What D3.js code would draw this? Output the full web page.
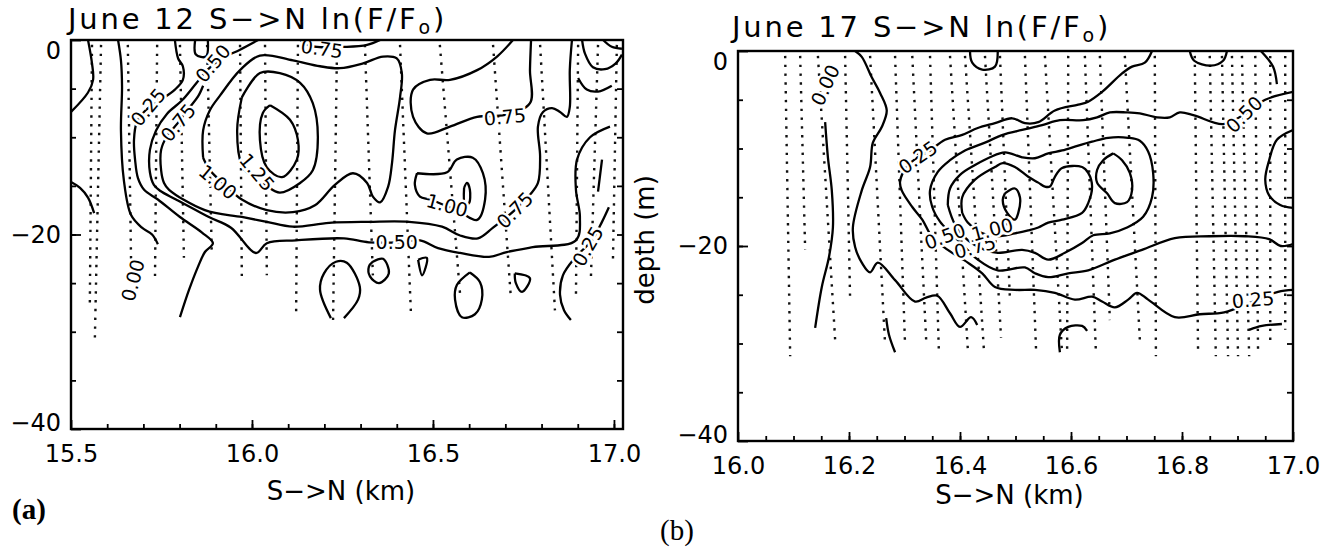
<!DOCTYPE html>
<html>
<head>
<meta charset="utf-8">
<script src="https://cdn.jsdelivr.net/npm/d3@7"></script>
<style>
  body { margin: 0; background: #fff; }
  svg { display: block; }
  text { font-family: "DejaVu Sans", sans-serif; fill: #000; }
</style>
</head>
<body>
<div id="chart"></div>
<script>
// ---------- panel (a) June 12 : contour lines as [km, depth] ----------
const a_c1 = [[15.547,0],[15.558,-2.4],[15.561,-4.1],[15.547,-5.4],[15.5,-7.4]];
const a_c2 = [[15.5,-14.6],[15.525,-15.2],[15.547,-16.2],[15.564,-17.8]];
const a_c3 = [[15.630,0],[15.638,-2.1],[15.641,-4.8],[15.638,-9.3],[15.646,-14.4],[15.666,-18.0],[15.696,-19.3],[15.724,-20.0],[15.740,-21.0]];
const a_c4 = [[15.787,0],[15.796,-1.9],[15.809,-2.7],[15.809,-4.1],[15.787,-5.1],[15.746,-6.2],[15.707,-7.2],[15.682,-8.4],[15.674,-10.3],[15.677,-12.3],[15.685,-14.2],[15.702,-15.4],[15.740,-16.4],[15.801,-18.2],[15.862,-19.8],[15.892,-20.9],[15.870,-21.8],[15.851,-23.3],[15.826,-25.7],[15.801,-28.5]];
const a_c5 = [[15.843,0],[15.845,-1.5],[15.873,-1.7],[15.878,0]];
const a_c6 = [[16.017,0],[15.967,-1.0],[15.917,-1.9],[15.876,-3.1],[15.845,-4.5],[15.807,-6.2],[15.765,-7.6],[15.735,-9.3],[15.718,-11.3],[15.718,-13.6],[15.729,-14.9],[15.746,-15.5],[15.790,-16.4],[15.881,-18.2],[15.942,-19.3],[16.011,-21.9],[16.041,-20.9],[16.122,-20.6],[16.254,-20.4],[16.323,-20.8],[16.409,-20.8],[16.464,-20.6],[16.514,-21.4],[16.575,-21.9],[16.655,-22.3],[16.704,-21.8],[16.776,-21.3],[16.895,-20.6],[16.906,-18.2],[16.895,-15.4],[16.898,-12.3],[16.934,-10.0],[16.989,-8.9]];
const a_c7 = [[15.865,-4.7],[15.851,-5.8],[15.826,-7.0],[15.796,-8.5],[15.765,-9.9],[15.749,-11.3],[15.749,-13.4],[15.757,-14.7],[15.771,-15.4],[15.870,-17.5],[15.972,-18.2],[16.041,-18.7],[16.113,-19.2],[16.213,-18.8],[16.323,-18.7],[16.434,-18.7],[16.525,-19.2],[16.575,-20.1],[16.624,-20.4],[16.666,-19.3],[16.726,-17.5],[16.768,-15.9],[16.790,-14.7],[16.796,-12.0],[16.790,-8.9],[16.804,-7.4],[16.829,-7.0],[16.851,-7.4],[16.870,-7.9],[16.878,-6.9],[16.878,-3.1],[16.884,0]];
const a_c7top = [[16.133,0],[16.160,-0.6],[16.262,-0.7],[16.318,-0.5],[16.354,0]];
const a_c8 = [[15.865,-12.1],[15.865,-9.3],[15.884,-7.2],[15.912,-5.7],[15.967,-3.1],[16.022,-1.6],[16.113,-2.1],[16.188,-2.7],[16.243,-2.9],[16.307,-2.4],[16.362,-1.7],[16.400,-1.9],[16.414,-3.4],[16.409,-5.9],[16.395,-9.3],[16.387,-12.6],[16.376,-15.1],[16.354,-16.7],[16.334,-16.1],[16.318,-14.7],[16.279,-13.7],[16.229,-14.9],[16.174,-17.0],[16.113,-17.7],[16.041,-17.5],[15.972,-16.4],[15.925,-14.9],[15.884,-13.4],[15.865,-12.1]];
const a_c9 = [[15.972,-5.9],[16.022,-3.4],[16.077,-3.4],[16.133,-4.4],[16.168,-6.5],[16.182,-10.0],[16.168,-13.4],[16.133,-14.7],[16.077,-15.7],[16.036,-14.9],[15.994,-13.9],[15.972,-12.9],[15.959,-9.3],[15.972,-5.9]];
const a_c10 = [[16.050,-6.7],[16.105,-8.2],[16.127,-10.3],[16.124,-12.3],[16.083,-14.1],[16.041,-13.1],[16.022,-10.3],[16.030,-7.5],[16.050,-6.7]];
const a_c11 = [[16.771,0],[16.768,-3.1],[16.768,-6.5],[16.699,-7.7],[16.622,-7.9],[16.547,-8.9],[16.483,-9.6],[16.445,-7.9],[16.445,-5.1],[16.492,-4.1],[16.547,-4.1],[16.622,-3.1],[16.677,-1.7],[16.721,0]];
const a_c12 = [[16.456,-13.7],[16.539,-13.6],[16.566,-12.3],[16.610,-12.1],[16.638,-13.7],[16.644,-16.4],[16.622,-18.5],[16.575,-17.7],[16.539,-17.1],[16.492,-16.4],[16.464,-16.1],[16.450,-14.9],[16.456,-13.7]];
const a_c13 = [[16.586,-15.2],[16.594,-14.7],[16.602,-15.4],[16.599,-16.8],[16.588,-16.8],[16.586,-15.2]];
const a_c14 = [[16.254,-28.6],[16.293,-26.7],[16.298,-25.4],[16.262,-22.9],[16.232,-22.8],[16.199,-24.0],[16.188,-25.7],[16.218,-28.6]];
const a_c15 = [[16.334,-22.8],[16.362,-22.5],[16.378,-24.0],[16.351,-25.0],[16.326,-24.3],[16.323,-23.3],[16.334,-22.8]];
const a_c16 = [[16.459,-22.6],[16.483,-22.4],[16.470,-24.2],[16.459,-22.6]];
const a_c17 = [[16.602,-23.9],[16.630,-24.9],[16.635,-26.7],[16.616,-28.2],[16.580,-28.5],[16.561,-26.7],[16.566,-25.2],[16.602,-23.9]];
const a_c18 = [[16.726,-24.0],[16.768,-24.5],[16.746,-25.9],[16.729,-25.0],[16.726,-24.0]];
const a_c19 = [[16.881,-28.8],[16.862,-27.8],[16.851,-26.2],[16.859,-24.2],[16.892,-22.4],[16.939,-20.6],[16.967,-18.7],[16.986,-17.2]];
const a_c20 = [[16.956,-15.6],[16.967,-12.3]];
const a_c21 = [[16.912,0],[16.920,-1.4],[16.942,-2.8],[16.975,-3.0],[17.005,-2.4],[17.022,-1.5]];
const a_c22 = [[16.970,0],[16.994,-0.7],[17.022,-0.9]];
const a_c23 = [[16.901,-3.9],[16.925,-5.1],[16.956,-5.3],[16.994,-4.7]];
const a_contours = [a_c1,a_c2,a_c3,a_c4,a_c5,a_c6,a_c7,a_c7top,a_c8,a_c9,a_c10,a_c11,a_c12,a_c13,a_c14,a_c15,a_c16,a_c17,a_c18,a_c19,a_c20,a_c21,a_c22,a_c23];

// [km, depth, text, angle]
const a_labels = [
  [15.713,-6.9,'0.25',-50],[15.796,-8.5,'0.75',-50],[15.892,-2.4,'0.50',-50],
  [15.906,-14.6,'1.00',40],[16.014,-13.6,'1.25',50],[16.193,-0.9,'0.75',8],
  [16.699,-7.9,'0.75',-5],[16.539,-17.0,'1.00',15],[16.726,-17.5,'0.75',-45],
  [16.400,-20.8,'0.50',0],[16.928,-21.2,'0.25',-60],[15.671,-24.7,'0.00',-75]
];
// sampling profiles: [km at top, km at bottom, deepest depth]
const a_stations = [
  [15.583,15.566,-30.6],[15.558,15.552,-27.3],[15.657,15.666,-22.8],[15.738,15.732,-24.7],
  [15.801,15.812,-22.4],[15.876,15.889,-22.1],[15.967,15.972,-24.7],[16.036,16.041,-24.2],
  [16.127,16.122,-28.0],[16.235,16.224,-28.8],[16.312,16.334,-24.2],[16.409,16.439,-28.0],
  [16.519,16.575,-26.2],[16.666,16.715,-26.4],[16.796,16.837,-27.8],[16.901,16.895,-26.5],
  [16.956,16.936,-24.9],[17.008,16.997,-23.1]
];
const a_xTicks = [15.5, 16.0, 16.5, 17.0];

// ---------- panel (b) June 17 ----------
const b_c1 = [[16.157,-7.3],[16.162,-10.9],[16.169,-14.3],[16.171,-18.1],[16.164,-21.1],[16.151,-24.2],[16.139,-28.4]];
const b_c2 = [[16.211,0],[16.223,-0.6],[16.241,-2.7],[16.256,-4.3],[16.268,-6.1],[16.259,-7.8],[16.243,-9.4],[16.238,-11.9],[16.223,-14.3],[16.207,-18.1],[16.211,-20.1],[16.223,-21.7],[16.238,-22.7],[16.252,-21.7],[16.283,-23.5],[16.319,-25.7],[16.339,-25.3],[16.359,-25.1],[16.382,-26.9],[16.400,-28.3],[16.420,-27.3],[16.431,-28.1]];
const b_c3 = [[16.746,0],[16.733,-1.2],[16.710,-1.6],[16.692,-2.3],[16.656,-4.2],[16.631,-5.2],[16.613,-5.5],[16.571,-6.1],[16.541,-7.3],[16.517,-7.4],[16.494,-6.9],[16.463,-7.4],[16.432,-7.9],[16.404,-8.6],[16.373,-9.1],[16.346,-10.2],[16.324,-10.9],[16.305,-11.8],[16.292,-13.4],[16.295,-14.3],[16.314,-16.0],[16.332,-17.3],[16.350,-19.1],[16.378,-20.4],[16.414,-21.7],[16.440,-22.8],[16.463,-24.2],[16.499,-24.5],[16.535,-24.5],[16.571,-24.8],[16.607,-25.5],[16.638,-25.2],[16.656,-25.7],[16.679,-26.3],[16.703,-25.5],[16.719,-24.8],[16.739,-25.5],[16.787,-27.3],[16.832,-27.0],[16.876,-26.8],[16.928,-25.7],[16.973,-24.7],[17.000,-24.5]];
const b_c4 = [[17.000,-4.2],[16.950,-5.0],[16.912,-6.5],[16.874,-7.5],[16.822,-6.6],[16.796,-6.3],[16.778,-6.8],[16.755,-6.8],[16.724,-6.4],[16.701,-6.3],[16.670,-6.3],[16.647,-6.8],[16.622,-7.1],[16.580,-7.1],[16.548,-7.6],[16.512,-8.1],[16.477,-8.6],[16.445,-9.4],[16.409,-10.2],[16.382,-11.2],[16.360,-12.4],[16.346,-14.3],[16.350,-16.0],[16.364,-17.5],[16.382,-18.6],[16.400,-19.6],[16.432,-21.4],[16.468,-22.5],[16.517,-22.2],[16.535,-22.8],[16.559,-23.2],[16.595,-22.8],[16.631,-22.5],[16.679,-21.4],[16.728,-20.4],[16.787,-19.2],[16.850,-19.0],[16.914,-19.0],[16.957,-19.3],[16.978,-20.0],[17.000,-19.8]];
const b_c5 = [[16.378,-15.8],[16.382,-14.1],[16.400,-12.7],[16.427,-11.7],[16.454,-10.9],[16.481,-10.4],[16.512,-10.9],[16.535,-11.0],[16.559,-10.5],[16.584,-10.2],[16.613,-9.7],[16.638,-9.3],[16.667,-8.9],[16.703,-8.9],[16.724,-9.2],[16.739,-10.3],[16.748,-12.5],[16.746,-15.0],[16.730,-17.0],[16.701,-18.1],[16.670,-18.7],[16.640,-18.9],[16.620,-19.7],[16.589,-20.7],[16.559,-21.4],[16.535,-20.7],[16.512,-20.4],[16.468,-20.7],[16.445,-20.4],[16.414,-19.4],[16.391,-17.8],[16.378,-15.8]];
const b_c6 = [[16.404,-16.6],[16.404,-15.0],[16.427,-13.2],[16.463,-11.9],[16.477,-11.5],[16.499,-11.9],[16.523,-12.9],[16.541,-13.5],[16.553,-13.9],[16.562,-13.9],[16.571,-12.9],[16.584,-12.0],[16.620,-11.9],[16.631,-12.5],[16.638,-13.9],[16.631,-15.6],[16.620,-16.6],[16.584,-17.3],[16.559,-17.6],[16.541,-18.1],[16.523,-18.4],[16.499,-18.7],[16.463,-19.0],[16.436,-18.6],[16.414,-17.6],[16.404,-16.6]];
const b_c7 = [[16.676,-10.5],[16.692,-11.2],[16.706,-12.5],[16.710,-14.3],[16.701,-15.5],[16.679,-15.6],[16.665,-14.6],[16.647,-13.5],[16.647,-12.2],[16.658,-11.2],[16.676,-10.5]];
const b_c8 = [[16.481,-14.6],[16.499,-14.1],[16.508,-15.0],[16.505,-16.6],[16.499,-17.3],[16.485,-16.6],[16.477,-15.3],[16.481,-14.6]];
const b_c9 = [[16.418,0],[16.422,-1.2],[16.440,-1.9],[16.463,-1.6],[16.468,0]];
const b_c10 = [[16.814,0],[16.822,-1.0],[16.852,-1.5],[16.874,-1.0],[16.881,0]];
const b_c11 = [[16.942,0],[16.964,-1.6],[16.971,-3.4]];
const b_c12 = [[17.000,-8.1],[16.971,-9.1],[16.957,-11.2],[16.950,-13.2],[16.957,-14.8],[16.977,-15.8],[17.000,-16.1]];
const b_c13 = [[16.580,-30.9],[16.580,-29.1],[16.595,-28.3],[16.620,-28.2],[16.629,-28.7]];
const b_c14 = [[16.921,-28.6],[16.944,-28.2],[16.980,-28.0]];
const b_c15 = [[16.267,-27.4],[16.272,-29.1],[16.283,-30.9]];
const b_contours = [b_c1,b_c2,b_c3,b_c4,b_c5,b_c6,b_c7,b_c8,b_c9,b_c10,b_c11,b_c12,b_c13,b_c14,b_c15];

const b_labels = [
  [16.157,-3.5,'0.00',-65],[16.324,-10.9,'0.25',-35],[16.912,-6.5,'0.50',-45],
  [16.928,-25.5,'0.25',-5],[16.373,-19.0,'0.50',-20],[16.427,-20.1,'0.75',-15],
  [16.458,-18.3,'1.00',-15]
];
const b_stations = [
  [16.085,16.094,-31.3],[16.112,16.121,-20.4],[16.144,16.175,-29.6],[16.193,16.202,-25.5],
  [16.238,16.265,-30.1],[16.283,16.301,-30.1],[16.314,16.339,-29.6],[16.346,16.362,-31.0],
  [16.382,16.414,-30.5],[16.409,16.443,-30.6],[16.445,16.474,-29.4],[16.472,16.490,-25.5],
  [16.517,16.537,-30.6],[16.553,16.584,-31.1],[16.595,16.593,-31.1],[16.625,16.645,-31.1],
  [16.652,16.670,-27.6],[16.697,16.724,-29.6],[16.751,16.753,-31.3],[16.823,16.829,-31.1],
  [16.850,16.861,-31.3],[16.872,16.883,-31.3],[16.890,16.901,-31.3],[16.908,16.921,-31.3],
  [16.932,16.937,-30.7],[16.959,16.959,-29.9],[16.986,16.986,-28.6]
];
const b_xTicks = [16.0, 16.2, 16.4, 16.6, 16.8, 17.0];

const yTicks = [0, -20, -40];
const titles = ['June 12 S\u2212>N ln(F/F', 'June 17 S\u2212>N ln(F/F'];

// ---------- drawing ----------
const svg = d3.select('#chart').append('svg').attr('width', 1327).attr('height', 549);

function drawPanel(o, id) {
  const x = d3.scaleLinear().domain(o.xDomain).range([o.left, o.right]);
  const y = d3.scaleLinear().domain([-40, 0]).range([o.bottom, o.top]);
  const g = svg.append('g');

  svg.append('clipPath').attr('id', id)
    .append('rect').attr('x', o.left).attr('y', o.top)
    .attr('width', o.right - o.left).attr('height', o.bottom - o.top);
  const plot = g.append('g').attr('clip-path', `url(#${id})`);

  // dotted station profiles
  plot.selectAll('line.stn').data(o.stations).join('line')
    .attr('class', 'stn')
    .attr('x1', d => x(d[0])).attr('y1', y(-0.5))
    .attr('x2', d => x(d[1])).attr('y2', d => y(d[2]))
    .attr('stroke', '#111').attr('stroke-width', 2.4)
    .attr('stroke-dasharray', '2.4,6.4');

  const line = d3.line().x(d => x(d[0])).y(d => y(d[1]))
    .curve(d3.curveCatmullRom.alpha(0.5));
  plot.selectAll('path.ctr').data(o.contours).join('path')
    .attr('class', 'ctr').attr('d', line)
    .attr('fill', 'none').attr('stroke', '#000')
    .attr('stroke-width', 2.3).attr('stroke-linejoin', 'round');

  plot.selectAll('text.lbl').data(o.labels).join('text')
    .attr('class', 'lbl')
    .attr('transform', d => `translate(${x(d[0])},${y(d[1])}) rotate(${d[3]})`)
    .attr('text-anchor', 'middle').attr('dy', '0.36em')
    .style('font-size', '19px')
    .attr('stroke', '#fff').attr('stroke-width', 5).attr('paint-order', 'stroke')
    .text(d => d[2]);

  // axes, ticks pointing inward
  const clean = s => { s.select('.domain').remove(); s.selectAll('line').attr('stroke-width', 1.8); };
  const fmt = d3.format('.1f');
  g.append('g').attr('transform', `translate(0,${o.bottom})`)
    .call(d3.axisBottom(x).tickValues(o.xMinor).tickSize(-5).tickFormat('')).call(clean);
  g.append('g').attr('transform', `translate(0,${o.bottom})`)
    .call(d3.axisBottom(x).tickValues(o.xTicks).tickSize(-9).tickPadding(16).tickFormat(fmt))
    .call(clean).selectAll('text').style('font-size', '24px');
  g.append('g').attr('transform', `translate(${o.left},0)`)
    .call(d3.axisLeft(y).tickValues(d3.range(-35, 0, 5)).tickSize(-5).tickFormat('')).call(clean);
  g.append('g').attr('transform', `translate(${o.left},0)`)
    .call(d3.axisLeft(y).tickValues(yTicks).tickSize(-10).tickPadding(10))
    .call(clean).selectAll('text').style('font-size', '24px')
    .attr('y', d => d === 0 ? 11 : (d === -40 ? -6 : 0));
  g.append('g').attr('transform', `translate(${o.right},0)`)
    .call(d3.axisRight(y).tickValues(d3.range(-35, 0, 5)).tickSize(-6).tickFormat('')).call(clean);

  g.append('rect').attr('x', o.left).attr('y', o.top)
    .attr('width', o.right - o.left).attr('height', o.bottom - o.top)
    .attr('fill', 'none').attr('stroke', '#000').attr('stroke-width', 2.4);

  // title
  const t = svg.append('text').attr('x', o.titleX).attr('y', o.titleY)
    .style('font-size', '29px').style('letter-spacing', '2.8px');
  t.append('tspan').text(o.title);
  t.append('tspan').attr('dy', 5).style('font-size', '19px').text('o');
  t.append('tspan').attr('dy', -5).text(')');

  svg.append('text').attr('x', (o.left + o.right) / 2 - 6).attr('y', o.xTitleY)
    .attr('text-anchor', 'middle').style('font-size', '26px').text('S\u2212>N (km)');
}

drawPanel({
  left: 71, right: 623, top: 40, bottom: 429, xDomain: [15.5, 17.025],
  xTicks: a_xTicks, xMinor: d3.range(15.6, 17.0, 0.1),
  contours: a_contours, labels: a_labels, stations: a_stations,
  title: titles[0], titleX: 68, titleY: 29, xTitleY: 500
}, 'clipA');

drawPanel({
  left: 738, right: 1293, top: 51, bottom: 441, xDomain: [16.0, 17.0],
  xTicks: b_xTicks, xMinor: d3.range(16.05, 17.0, 0.05),
  contours: b_contours, labels: b_labels, stations: b_stations,
  title: titles[1], titleX: 732, titleY: 37, xTitleY: 504
}, 'clipB');

svg.append('text').attr('transform', 'translate(654,240) rotate(-90)')
  .attr('text-anchor', 'middle').style('font-size', '26px').text('depth (m)');

svg.append('text').attr('x', 12).attr('y', 519)
  .style('font-family', '"Liberation Serif", serif').style('font-weight', 'bold')
  .style('font-size', '29px').text('(a)');
svg.append('text').attr('x', 660).attr('y', 540)
  .style('font-family', '"Liberation Serif", serif')
  .style('font-size', '29px').text('(b)');
</script>
</body>
</html>
